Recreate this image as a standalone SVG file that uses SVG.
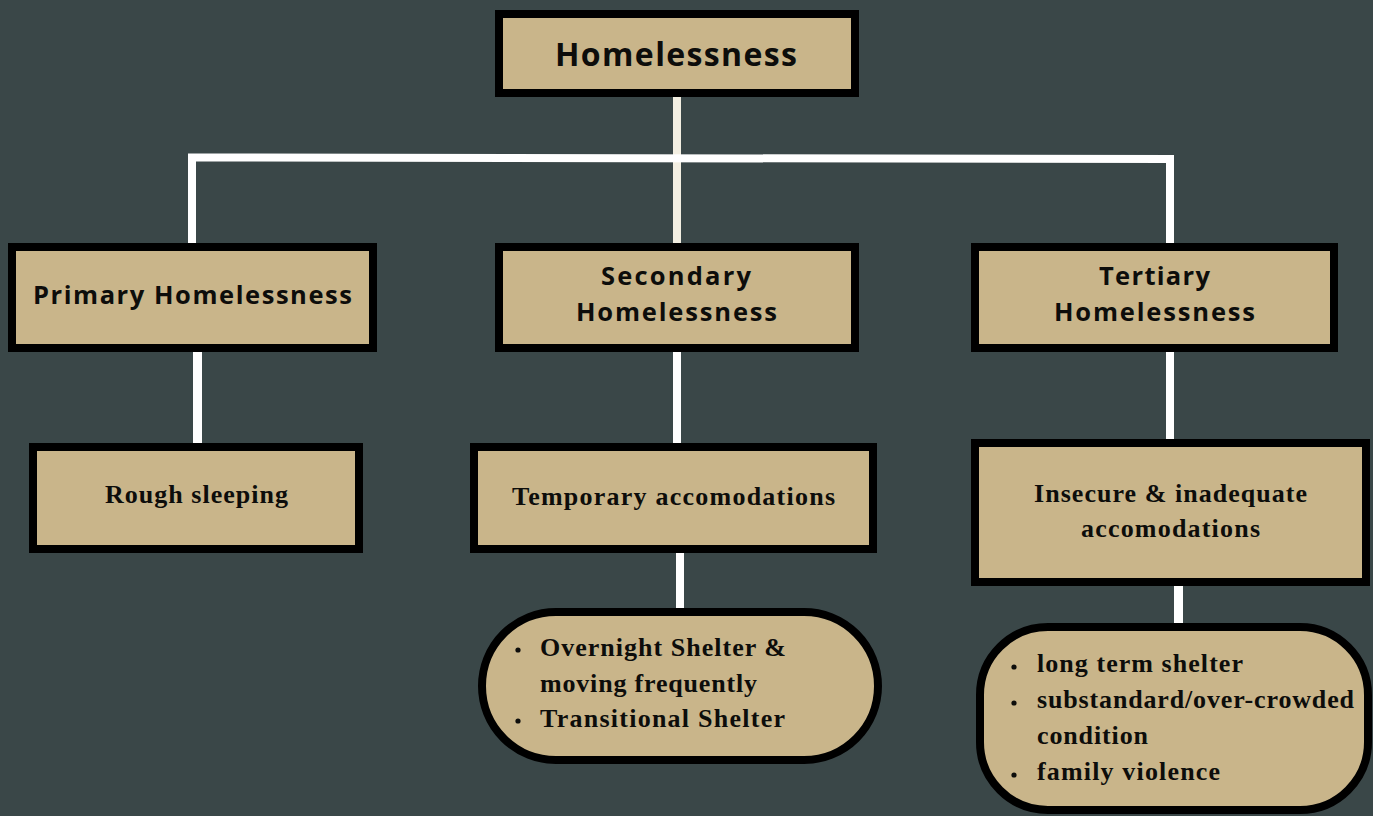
<svg xmlns="http://www.w3.org/2000/svg" width="1373" height="816" viewBox="0 0 1373 816">
<style>
.box{fill:#c9b58a;stroke:#000;stroke-width:8}
.conn{stroke:#ffffff;stroke-width:8;fill:none}
.sans{font-family:"Open Sans","DejaVu Sans",sans-serif;font-weight:700;fill:#0d0d0b}
.serif{font-family:"Liberation Serif","Times New Roman",serif;font-weight:700;fill:#0d0d0b;font-size:26px}
.dot{fill:#0d0d0b}
</style>
<rect width="1373" height="816" fill="#3a4748"/>
<g id="connectors">
<line class="conn" x1="677" y1="97" x2="677" y2="243" style="stroke:#f3efe2"/>
<path class="conn" d="M192,243 V157.5 L1170,159 V243"/>
<line class="conn" x1="197.5" y1="352" x2="197.5" y2="443" style="stroke-width:9"/>
<line class="conn" x1="677" y1="352" x2="677" y2="443"/>
<line class="conn" x1="1170" y1="352" x2="1170" y2="439"/>
<line class="conn" x1="680" y1="553" x2="680" y2="608"/>
<line class="conn" x1="1178.5" y1="586" x2="1178.5" y2="623" style="stroke-width:9"/>
</g>
<g id="homelessness">
<rect class="box" x="499" y="14" width="356" height="79"/>
<text class="sans" x="676" y="66" font-size="32" text-anchor="middle" textLength="242" lengthAdjust="spacing">Homelessness</text>
</g>
<g id="primary">
<rect class="box" x="12" y="247" width="361" height="101"/>
<text class="sans" x="192.5" y="304" font-size="25.5" text-anchor="middle" textLength="319" lengthAdjust="spacing">Primary Homelessness</text>
</g>
<g id="secondary">
<rect class="box" x="499" y="247" width="356" height="101"/>
<text class="sans" x="676" y="285" font-size="25.5" text-anchor="middle" textLength="150" lengthAdjust="spacing">Secondary</text>
<text class="sans" x="676.5" y="321" font-size="25.5" text-anchor="middle" textLength="201" lengthAdjust="spacing">Homelessness</text>
</g>
<g id="tertiary">
<rect class="box" x="975" y="247" width="359" height="101"/>
<text class="sans" x="1154.5" y="285" font-size="25.5" text-anchor="middle" textLength="111" lengthAdjust="spacing">Tertiary</text>
<text class="sans" x="1154.5" y="321" font-size="25.5" text-anchor="middle" textLength="201" lengthAdjust="spacing">Homelessness</text>
</g>
<g id="rough">
<rect class="box" x="33" y="447" width="326" height="102"/>
<text class="serif" x="105" y="503" textLength="183" lengthAdjust="spacing">Rough sleeping</text>
</g>
<g id="temporary">
<rect class="box" x="474" y="447" width="399" height="102"/>
<text class="serif" x="512" y="505" textLength="323" lengthAdjust="spacing">Temporary accomodations</text>
</g>
<g id="insecure">
<rect class="box" x="975" y="443" width="391" height="139"/>
<text class="serif" x="1034" y="502" textLength="273" lengthAdjust="spacing">Insecure &amp; inadequate</text>
<text class="serif" x="1081" y="537" textLength="179" lengthAdjust="spacing">accomodations</text>
</g>
<g id="temporary-list">
<rect class="box" x="482" y="612" width="396" height="148" rx="74" ry="74"/>
<circle class="dot" cx="518" cy="650" r="2.6"/>
<circle class="dot" cx="518" cy="721" r="2.6"/>
<text class="serif" x="540" y="656" textLength="246" lengthAdjust="spacing">Overnight Shelter &amp;</text>
<text class="serif" x="540" y="692" textLength="217" lengthAdjust="spacing">moving frequently</text>
<text class="serif" x="540" y="727" textLength="245" lengthAdjust="spacing">Transitional Shelter</text>
</g>
<g id="insecure-list">
<rect class="box" x="980" y="627" width="388" height="183" rx="68" ry="68"/>
<circle class="dot" cx="1014" cy="667" r="2.6"/>
<circle class="dot" cx="1014" cy="703" r="2.6"/>
<circle class="dot" cx="1014" cy="775" r="2.6"/>
<text class="serif" x="1037" y="672" textLength="206" lengthAdjust="spacing">long term shelter</text>
<text class="serif" x="1037" y="708" textLength="317" lengthAdjust="spacing">substandard/over-crowded</text>
<text class="serif" x="1037" y="744" textLength="111" lengthAdjust="spacing">condition</text>
<text class="serif" x="1037" y="780" textLength="183" lengthAdjust="spacing">family violence</text>
</g>
</svg>
